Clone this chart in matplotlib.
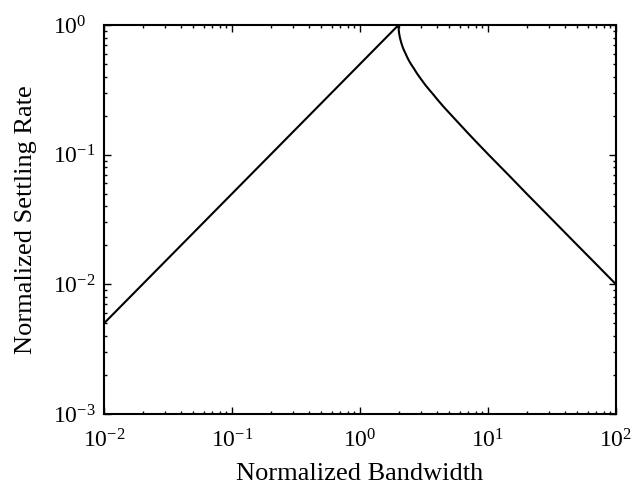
import matplotlib

matplotlib.use("Agg")
import matplotlib.pyplot as plt
from matplotlib.ticker import LogLocator

plt.rcParams["font.family"] = ["Liberation Serif", "DejaVu Serif"]
plt.rcParams["mathtext.fontset"] = "custom"
plt.rcParams["mathtext.rm"] = "Liberation Serif"
plt.rcParams["mathtext.it"] = "Liberation Serif:italic"

# rising branch (straight in log-log) and falling branch
bw_rise = [0.01, 2.0]
rate_rise = [0.005, 1.0]

bw_fall = [2.0, 2.002, 2.005, 2.01, 2.02, 2.035, 2.05, 2.075, 2.1, 2.15, 2.2,
           2.28, 2.35, 2.42, 2.5, 2.65, 2.8, 3.0, 3.25, 3.5, 3.75, 4.0, 4.5,
           5.0, 6.0, 7.0, 8.0, 10.0, 15.0, 20.0, 30.0, 50.0, 70.0, 100.0]
rate_fall = [1.0, 0.956, 0.930, 0.905, 0.868, 0.830, 0.800, 0.763, 0.730,
             0.680, 0.642, 0.596, 0.558, 0.528, 0.500, 0.458, 0.420, 0.382,
             0.343, 0.314, 0.290, 0.268, 0.234, 0.209, 0.172, 0.146, 0.127,
             0.101, 0.0672, 0.0501, 0.0334, 0.0200, 0.0143, 0.0100]

fig = plt.figure(figsize=(6.37, 4.95), dpi=100)
ax = fig.add_axes([104 / 637, 81 / 495, 512 / 637, 389 / 495])

ax.loglog(bw_rise + bw_fall[1:], rate_rise + rate_fall[1:], color="black", linewidth=1.5)

ax.set_xlim(1e-2, 1e2)
ax.set_ylim(1e-3, 1e0)
ax.xaxis.set_major_locator(LogLocator(base=10, numticks=10))
ax.yaxis.set_major_locator(LogLocator(base=10, numticks=10))
ax.xaxis.set_minor_locator(LogLocator(base=10, subs=range(2, 10), numticks=20))
ax.yaxis.set_minor_locator(LogLocator(base=10, subs=range(2, 10), numticks=20))

ax.tick_params(which="both", direction="in", top=True, right=True, width=1.0)
ax.tick_params(which="major", length=5, labelsize=17)
ax.tick_params(axis="x", which="major", pad=11)
ax.tick_params(axis="y", which="major", pad=37)
ax.tick_params(which="minor", length=2.5)
for spine in ax.spines.values():
    spine.set_linewidth(1.5)

# MATLAB-style: y tick labels start at a common left edge
for lbl in ax.get_yticklabels():
    lbl.set_horizontalalignment("left")

ax.set_xlabel("Normalized Bandwidth", fontsize=19)
ax.set_ylabel("Normalized Settling Rate", fontsize=19)
ax.xaxis.set_label_coords(0.5, -0.125)
ax.yaxis.set_label_coords(-0.131, 0.5)

fig.savefig("out.png", dpi=100)
